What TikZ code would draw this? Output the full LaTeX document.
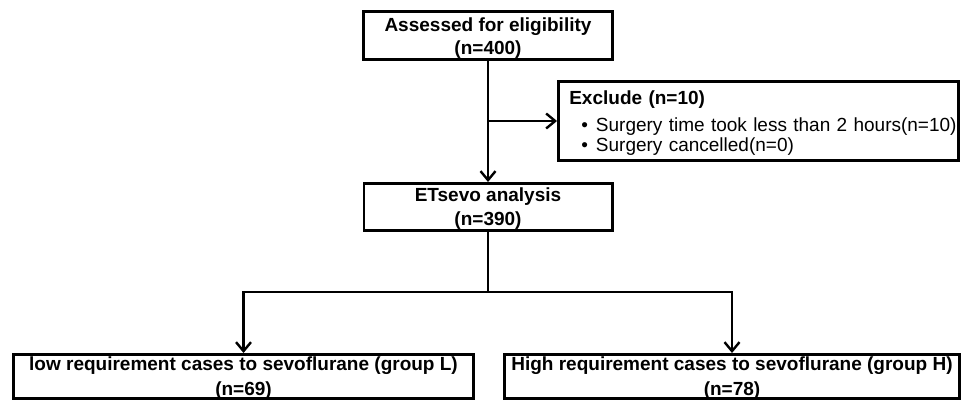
\documentclass[tikz,border=0pt]{standalone}
\usepackage{fontspec}
\setmainfont{Liberation Sans}
\usetikzlibrary{arrows.meta}
\tikzset{
  box/.style={draw, line width=2.6pt, align=center, inner sep=0pt,
    font=\fontsize{19}{23}\selectfont\bfseries},
  flow/.style={line width=2.4pt, -{Straight Barb[length=9pt, width=15pt, line width=2.4pt]}},
  link/.style={line width=2.4pt}
}
\begin{document}
\begin{tikzpicture}[x=1pt, y=-1pt]
  \useasboundingbox (0,0) rectangle (963,401);
  \node[box, minimum width=249.4pt, text height=43.5pt, text depth=4.9pt] (assess) at (488,35.5) {Assessed for eligibility\\(n=400)};
  \node[box, align=left, font=\fontsize{19}{20}\selectfont, text width=394.4pt, inner xsep=3pt,
    text height=23.7pt, text depth=55.7pt] (exclude) at (758.5,121)
    {\mbox{\hspace*{8pt}\textbf{Exclude (n=10)}}\\[6.5pt]
     \mbox{\hspace*{20pt}\textbullet\hspace{8pt}Surgery time took less than 2 hours(n=10)}\\
     \mbox{\hspace*{20pt}\textbullet\hspace{8pt}Surgery cancelled(n=0)}};
  \node[box, minimum width=248.4pt, font=\fontsize{19}{23.3}\selectfont\bfseries, text height=41.7pt, text depth=5.7pt] (analysis) at (488,207) {ETsevo analysis\\(n=390)};
  \node[box, minimum width=460.4pt, font=\fontsize{19}{25}\selectfont\bfseries, text height=41pt, text depth=3.4pt] (low) at (243.5,376.5) {low requirement cases to sevoflurane (group L)\\(n=69)};
  \node[box, minimum width=455.4pt, font=\fontsize{19}{25}\selectfont\bfseries, text height=41pt, text depth=3.4pt] (high) at (732,376.5) {High requirement cases to sevoflurane (group H)\\(n=78)};
  \coordinate (fork) at (488,292);
  \draw[flow] (assess) -- (analysis);
  \draw[flow] (assess.south |- exclude.west) -- (exclude.west);
  \draw[link] (analysis) -- (fork);
  \draw[flow] (fork) -| (low);
  \draw[flow] (fork) -| (high);
\end{tikzpicture}
\end{document}
